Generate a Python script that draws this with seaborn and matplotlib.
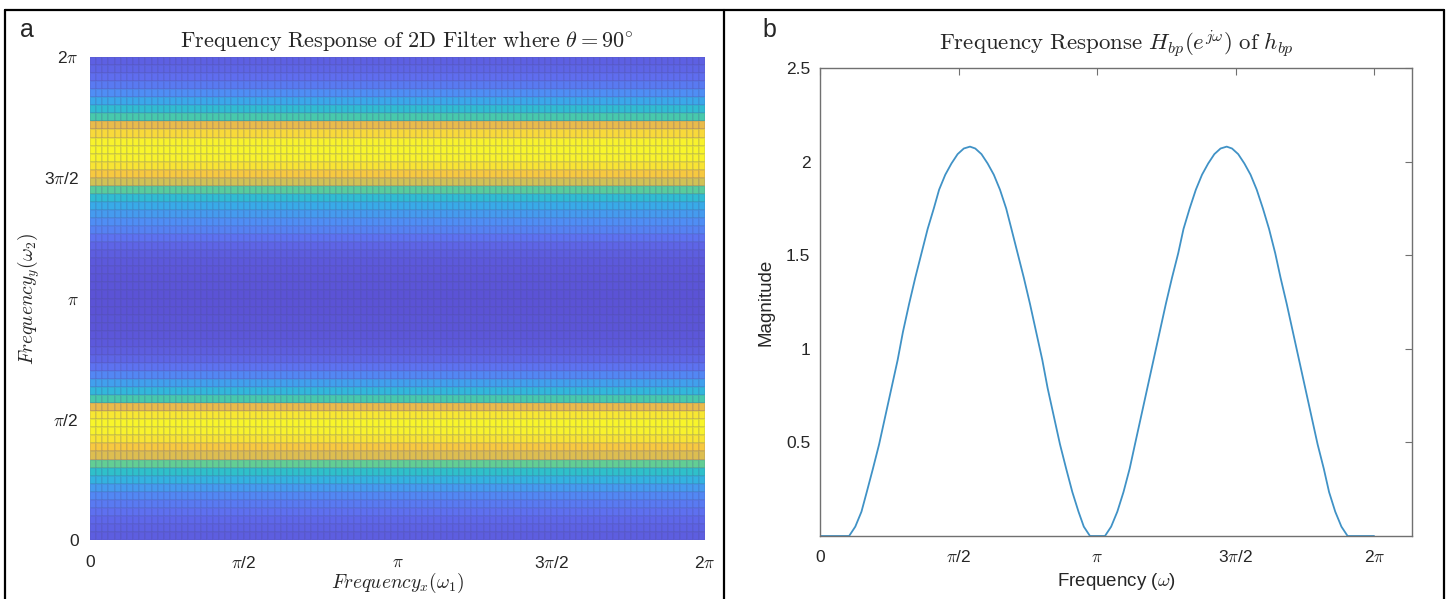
import numpy as np
import pandas as pd
import matplotlib
matplotlib.use("Agg")
import matplotlib.pyplot as plt
import seaborn as sns
from matplotlib.colors import LinearSegmentedColormap
from matplotlib.lines import Line2D

# panel a: filter response along omega_2 (one value per row, bottom row first),
# read off the colour bands of the reference (0 = dark purple, 1 = yellow)
row_response = [0.05, 0.07, 0.09, 0.13, 0.17, 0.23, 0.30, 0.40, 0.48, 0.60,
                0.80, 0.88, 0.95, 0.99, 1.00, 0.96, 0.82, 0.55, 0.42, 0.32,
                0.22, 0.14, 0.08, 0.05, 0.03, 0.02, 0.01, 0.01, 0.00, 0.00,
                0.00, 0.01, 0.01, 0.02, 0.03, 0.05, 0.08, 0.14, 0.20, 0.25,
                0.30, 0.36, 0.45, 0.58, 0.78, 0.88, 0.95, 0.99, 1.00, 0.99,
                0.92, 0.82, 0.55, 0.45, 0.35, 0.25, 0.17, 0.12, 0.08, 0.06]
n_cols = 100

# panel b: magnitude of H_bp
freq = [0.00,
        0.33, 0.40, 0.47, 0.53, 0.60, 0.67, 0.74, 0.81, 0.88, 0.94, 1.01,
        1.08, 1.15, 1.22, 1.29, 1.35, 1.42, 1.49, 1.56, 1.63, 1.70, 1.76,
        1.83, 1.90, 1.97, 2.04, 2.11, 2.17, 2.24, 2.31, 2.38, 2.45, 2.52,
        2.58, 2.65, 2.72, 2.79, 2.86, 2.93, 2.99, 3.06,
        3.23, 3.30, 3.37, 3.44, 3.51, 3.57, 3.64, 3.71, 3.78, 3.85, 3.92,
        3.99, 4.06, 4.12, 4.19, 4.26, 4.33, 4.40, 4.47, 4.54, 4.61, 4.67,
        4.74, 4.81, 4.88, 4.95, 5.02, 5.09, 5.16, 5.22, 5.29, 5.36, 5.43,
        5.50, 5.57, 5.64, 5.71, 5.77, 5.84, 5.91, 5.98,
        6.28]
mag = [0.00,
       0.00, 0.05, 0.13, 0.235, 0.36, 0.49, 0.64, 0.79, 0.94, 1.09, 1.24,
       1.38, 1.51, 1.64, 1.75, 1.85, 1.93, 1.99, 2.04, 2.07, 2.08, 2.07,
       2.04, 1.99, 1.93, 1.85, 1.75, 1.64, 1.51, 1.38, 1.24, 1.09, 0.94,
       0.79, 0.64, 0.49, 0.36, 0.235, 0.13, 0.05, 0.00,
       0.00, 0.05, 0.13, 0.235, 0.36, 0.49, 0.64, 0.79, 0.94, 1.09, 1.24,
       1.38, 1.51, 1.64, 1.75, 1.85, 1.93, 1.99, 2.04, 2.07, 2.08, 2.07,
       2.04, 1.99, 1.93, 1.85, 1.75, 1.64, 1.51, 1.38, 1.24, 1.09, 0.94,
       0.79, 0.64, 0.49, 0.36, 0.235, 0.13, 0.05, 0.00,
       0.00]

pi_ticks = [0, np.pi / 2, np.pi, 3 * np.pi / 2, 2 * np.pi]
pi_labels = ["0", r"$\pi$/2", r"$\pi$", r"3$\pi$/2", r"2$\pi$"]
mag_ticks = [0.5, 1, 1.5, 2, 2.5]

sns.set_style("white")
plt.rcParams["font.family"] = ["Liberation Sans", "DejaVu Sans"]
plt.rcParams["mathtext.fontset"] = "cm"

cmap = LinearSegmentedColormap.from_list("parula_light", [
    (0.00, "#5b53d6"), (0.12, "#5f6ef0"), (0.25, "#4f8ef5"),
    (0.38, "#34b0e6"), (0.50, "#2ec4c4"), (0.62, "#6cd08a"),
    (0.74, "#b8c860"), (0.84, "#f5b845"), (0.92, "#f8d83a"),
    (1.00, "#f8f52a")])

fig = plt.figure(figsize=(14.49, 5.99), dpi=100)
W, H = 1449, 599

# ---- panel a
ax1 = fig.add_axes([90 / W, 1 - 540 / H, 615 / W, 483 / H])
grid = pd.DataFrame(np.tile(np.array(row_response[::-1])[:, None], (1, n_cols)))
sns.heatmap(grid, ax=ax1, cmap=cmap, vmin=0, vmax=1, cbar=False,
            xticklabels=False, yticklabels=False,
            linewidths=0.25, linecolor=(0.3, 0.3, 0.55, 0.12))
n_rows = len(row_response)
ax1.set_xticks([i * n_cols / 4 for i in range(5)])
ax1.set_xticklabels(pi_labels, rotation=0)
ax1.set_yticks([n_rows - i * n_rows / 4 for i in range(5)])
ax1.set_yticklabels(pi_labels, rotation=0)
ax1.tick_params(axis="x", length=0, pad=11, labelsize=12.5, colors="#262626")
ax1.tick_params(axis="y", length=0, pad=8, labelsize=12.5, colors="#262626")
ax1.set_xlabel(r"$Frequency_x(\omega_1)$", fontsize=14, labelpad=0)
ax1.set_ylabel(r"$Frequency_y(\omega_2)$", fontsize=14, labelpad=1)
ax1.set_title(r"$\mathrm{Frequency\ Response\ of\ 2D\ Filter\ where\ }\theta = 90^{\circ}$",
              fontsize=16, pad=7, x=0.515)

# ---- panel b
ax2 = fig.add_axes([820 / W, 1 - 536 / H, 592 / W, 468 / H])
sns.lineplot(x=freq, y=mag, ax=ax2, color="#4092c6", linewidth=1.3,
             estimator=None, sort=False)
ax2.set_xlim(0, 6.71)
ax2.set_ylim(0, 2.5)
ax2.set_xticks(pi_ticks)
ax2.set_xticklabels(pi_labels)
ax2.set_yticks(mag_ticks)
ax2.set_yticklabels(["0.5", "1", "1.5", "2", "2.5"])
ax2.tick_params(direction="in", length=5, width=0.8, color="#707070",
                top=True, right=True, labelsize=12.5, labelcolor="#262626")
ax2.tick_params(axis="x", pad=10)
ax2.tick_params(axis="y", pad=7)
for s in ax2.spines.values():
    s.set_visible(True)
    s.set_color("#707070")
    s.set_linewidth(1.0)
ax2.set_xlabel(r"Frequency ($\omega$)", fontsize=13.5, color="#262626", labelpad=4)
ax2.set_ylabel("Magnitude", fontsize=13.5, color="#262626", labelpad=8)
ax2.set_title(r"$\mathrm{Frequency\ Response\ }H_{bp}(e^{j\omega})\mathrm{\ of\ }h_{bp}$",
              fontsize=16.5, pad=12)

# panel letters and frame lines
fig.text(20 / W, 1 - 30 / H, "a", fontsize=18, va="center", ha="left")
fig.text(762 / W, 1 - 30 / H, "b", fontsize=18, va="center", ha="left")
for x0, y0, x1, y1 in [(5, 10, 1444, 10), (5, 10, 5, 599), (724, 10, 724, 599),
                       (1444, 10, 1444, 599)]:
    fig.add_artist(Line2D([x0 / W, x1 / W], [1 - y0 / H, 1 - y1 / H],
                          color="black", linewidth=1.6, transform=fig.transFigure))

fig.savefig("out.png", dpi=100)
